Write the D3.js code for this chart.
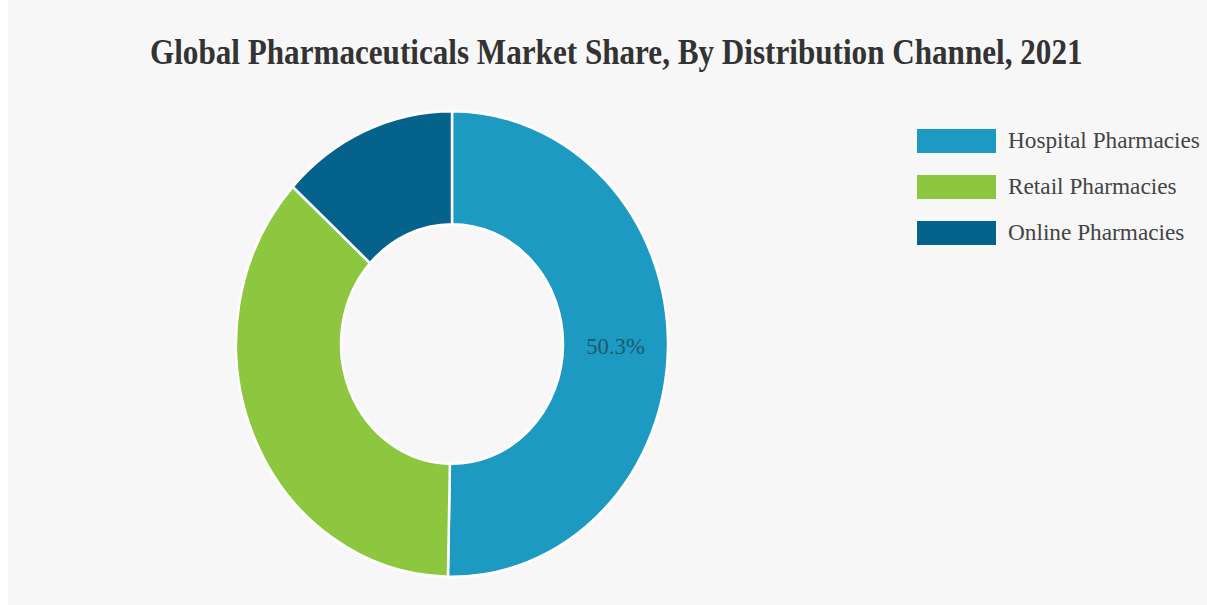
<!DOCTYPE html>
<html><head><meta charset="utf-8">
<script src="https://cdn.jsdelivr.net/npm/d3@7"></script>
<style>html,body{margin:0;padding:0;background:#fff;overflow:hidden}</style>
</head><body>
<svg id="c" width="1207" height="605"></svg>
<script>
const categories = ["Hospital Pharmacies", "Retail Pharmacies", "Online Pharmacies"];
const shares = [50.3, 36.5, 13.2];
const colors = ["#1d9ac2", "#8dc63f", "#05628a"];
const labels = ["50.3%", "", ""];
const title = "Global Pharmaceuticals Market Share, By Distribution Channel, 2021";

const svg = d3.select("#c");
svg.append("rect").attr("x", 8).attr("y", 0).attr("width", 1199).attr("height", 605).attr("fill", "#f7f7f7");

const sy = 1.078;
const cx = 452, cy = 344;
const outerR = 216, innerR = 111;

// Title
const t = svg.append("text").text(title)
  .attr("font-family", "Liberation Serif, Times New Roman, serif")
  .attr("font-weight", "bold").attr("font-size", 32).attr("fill", "#333");
const tw = t.node().getComputedTextLength();
t.attr("transform", `translate(150,64) scale(${933 / tw},1.1)`);

// Donut
const pie = d3.pie().sort(null).value(d => d)(shares);
const arc = d3.arc().innerRadius(innerR).outerRadius(outerR);
const g = svg.append("g").attr("transform", `translate(${cx},${cy}) scale(1,${sy})`);
g.selectAll("path").data(pie).join("path")
  .attr("d", arc)
  .attr("fill", (d, i) => colors[i])
  .attr("stroke", "#fff").attr("stroke-width", 2.5).attr("stroke-linejoin", "round");

pie.forEach((d, i) => {
  if (!labels[i]) return;
  const c = arc.centroid(d);
  svg.append("text").text(labels[i])
    .attr("transform", `translate(${cx + c[0]},${cy + c[1] * sy + 8}) scale(1.08,1.06)`)
    .attr("text-anchor", "middle")
    .attr("font-family", "Liberation Serif, Times New Roman, serif")
    .attr("font-size", 21).attr("fill", "#1c5a73");
});

// Legend
const leg = svg.append("g");
const ly = d3.scalePoint().domain(categories).range([129, 221]);
let lsx = 1;
categories.forEach((c, i) => {
  leg.append("rect").attr("x", 917).attr("y", ly(c)).attr("width", 79).attr("height", 24)
    .attr("fill", colors[i]);
  const tx = leg.append("text").text(c)
    .attr("font-family", "Liberation Serif, Times New Roman, serif")
    .attr("font-size", 21).attr("fill", "#444");
  if (i === 0) lsx = 192 / tx.node().getComputedTextLength();
  tx.attr("transform", `translate(1008,${ly(c) + 19}) scale(${lsx},1.08)`);
});
</script>
</body></html>
